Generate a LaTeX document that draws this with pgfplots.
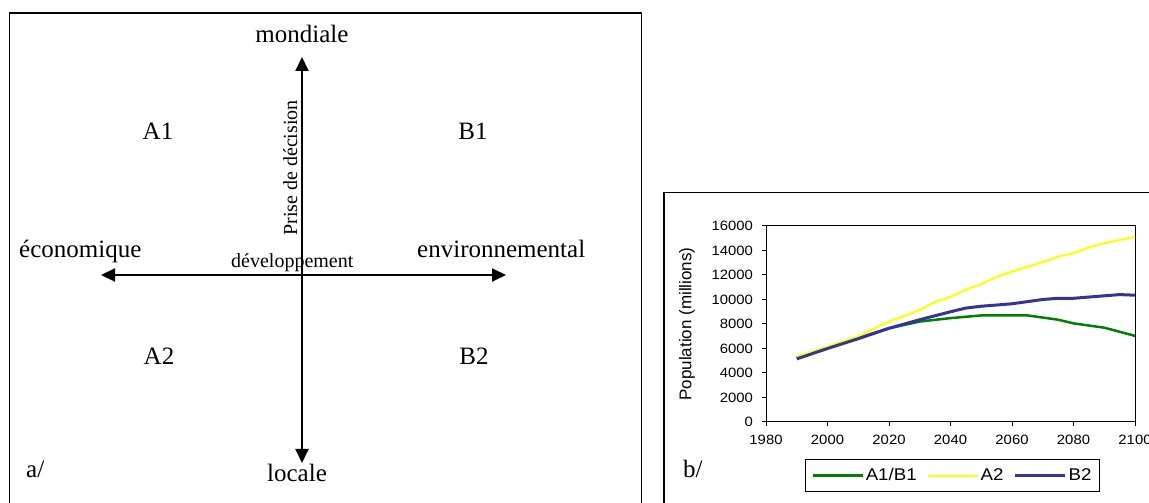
\documentclass[border=0pt]{standalone}
\usepackage{fontspec}
\setmainfont{Liberation Serif}
\newfontfamily\arialfont{Liberation Sans}
\newfontfamily\arialwide{Liberation Sans}[FakeStretch=1.1]
\usepackage{pgfplots}
\pgfplotsset{compat=1.18}
\usetikzlibrary{arrows.meta}
\definecolor{cgreen}{RGB}{0,128,0}
\definecolor{cyellow}{RGB}{255,255,0}
\definecolor{cblue}{RGB}{51,51,153}

\begin{document}
\begin{tikzpicture}[x=1pt,y=1pt]
\useasboundingbox (0,0) rectangle (1149,503);
% boxes
\draw[line width=1.5pt] (9.5,-20) -- (9.5,490) -- (641.5,490) -- (641.5,-20);
\draw[line width=1.5pt] (664,-20) -- (664,310.5) -- (1220,310.5);
% left schematic
\draw[line width=2pt, {Triangle[length=14pt,width=13pt]}-{Triangle[length=14pt,width=13pt]}] (302,40) -- (302,446);
\draw[line width=2pt, {Triangle[length=14pt,width=13pt]}-{Triangle[length=14pt,width=13pt]}] (101,228) -- (506,228);
\begin{scope}[every node/.style={font=\fontsize{25}{30}\selectfont, inner sep=0pt}]
\node[anchor=base] at (302,460) {mondiale};
\node[anchor=base] at (297,21) {locale};
\node[anchor=base] at (158,363) {A1};
\node[anchor=base] at (473,363) {B1};
\node[anchor=base] at (159,138) {A2};
\node[anchor=base] at (474,138) {B2};
\node[anchor=base west] at (19,245) {économique};
\node[anchor=base west] at (417,245) {environnemental};
\node[anchor=base west] at (26,25) {a/};
\node[anchor=base west] at (683,25) {b/};
\end{scope}
\node[anchor=base west, inner sep=0pt, font=\fontsize{20}{24}\selectfont] at (231,235) {développement};
\node[anchor=base, rotate=90, inner sep=0pt, font=\fontsize{20}{24}\selectfont] at (297,335) {Prise de décision};
% right chart
\begin{axis}[
  at={(766pt,81pt)}, anchor=south west,
  scale only axis, width=369pt, height=196pt,
  xmin=1980, xmax=2100, ymin=0, ymax=16000,
  xtick={1980,2000,...,2100}, ytick={0,2000,...,16000},
  tick pos=left, tick align=outside, major tick length=4pt,
  axis line style={line width=1pt},
  every tick/.style={black, line width=1pt},
  ticklabel style={font=\arialwide\fontsize{13.5}{16}\selectfont, inner sep=0pt},
  xticklabel shift=9pt, yticklabel shift=9pt,
  /pgf/number format/assume math mode=true,
  scaled ticks=false, /pgf/number format/1000 sep={},
  ylabel={Population (millions)},
  every axis y label/.style={at={(axis description cs:-0.214,0.5)}, rotate=90, anchor=center, font=\arialfont\fontsize{17}{20}\selectfont},
  legend style={at={(0.505,-0.273)}, anchor=center, legend columns=3, draw=black, line width=1pt,
     font=\arialwide\fontsize{17}{20}\selectfont, inner xsep=6pt, inner ysep=7pt,
     /tikz/every even column/.append style={column sep=8pt}},
  legend image code/.code={\draw[#1] (0pt,0pt) -- (50pt,0pt);},
]
\addplot[color=cgreen, line width=2.5pt] coordinates {
(1990,5250) (2000,6050) (2010,6850) (2020,7650) (2030,8200) (2040,8480) (2050,8700)
(2065,8700) (2075,8350) (2080,8050) (2090,7700) (2100,7030)};
\addlegendentry{A1/B1}
\addplot[color=cyellow, line width=2pt] coordinates {
(1990,5350) (2000,6150) (2010,7000) (2020,8200) (2025,8650) (2030,9150) (2035,9800)
(2040,10220) (2045,10800) (2050,11250) (2055,11850) (2060,12280) (2070,13050)
(2075,13500) (2080,13780) (2085,14250) (2090,14600) (2100,15100)};
\addlegendentry{A2}
\addplot[color=cblue, line width=3pt] coordinates {
(1990,5150) (2000,6000) (2010,6800) (2020,7650) (2030,8350) (2040,9000) (2045,9300)
(2050,9450) (2060,9650) (2070,10000) (2075,10100) (2080,10100) (2090,10300)
(2095,10400) (2100,10350)};
\addlegendentry{B2}
\end{axis}
\end{tikzpicture}
\end{document}
